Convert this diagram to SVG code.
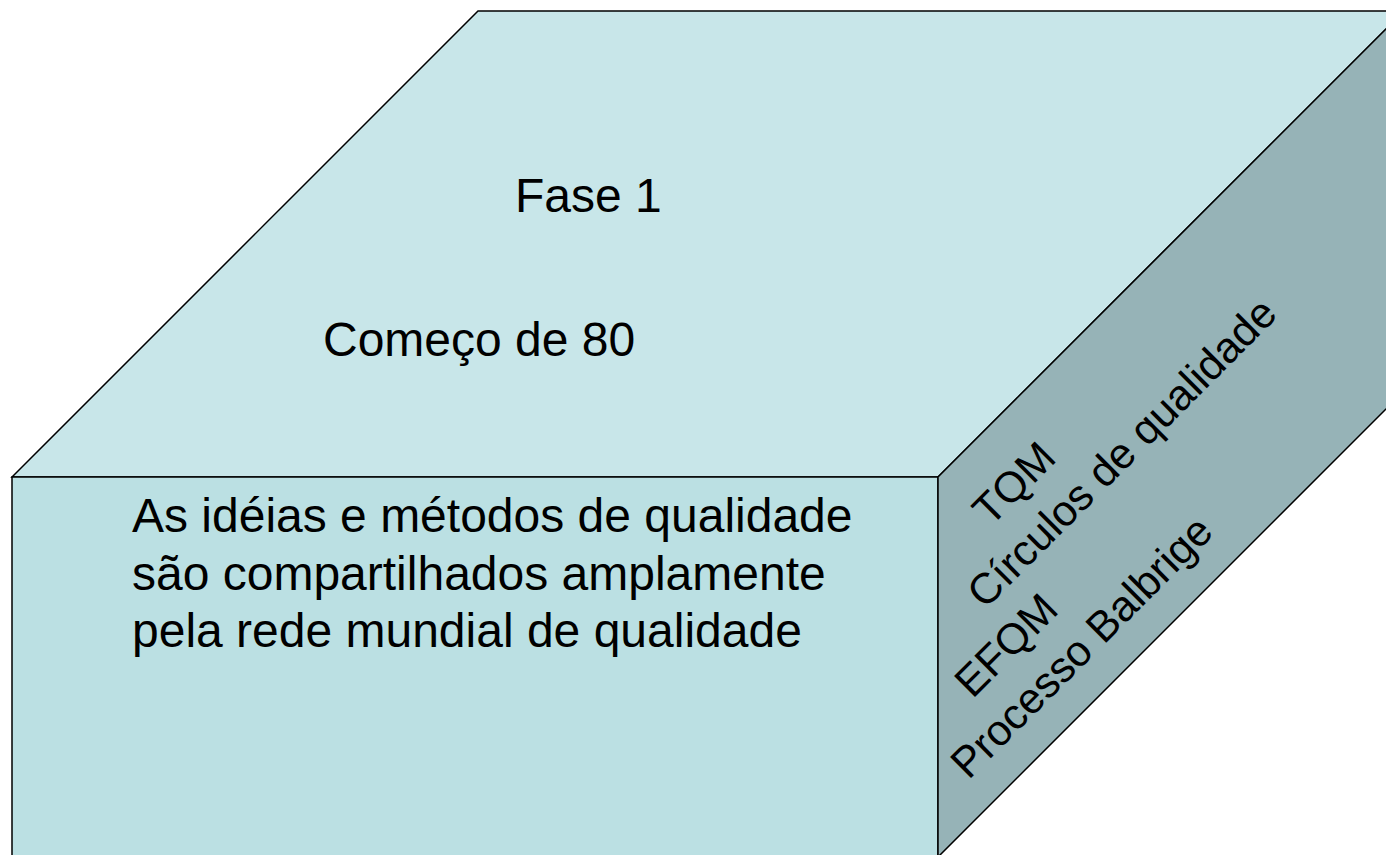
<svg xmlns="http://www.w3.org/2000/svg" width="1386" height="855" viewBox="0 0 1386 855">
  <style>
    .face { stroke: #000; stroke-width: 1.5; stroke-linejoin: miter; }
    .t { font-family: "Liberation Sans", Arial, sans-serif; font-size: 48px; fill: #000; }
    .s { font-family: "Liberation Sans", Arial, sans-serif; font-size: 43px; fill: #000; }
  </style>
  <rect width="1386" height="855" fill="#ffffff"/>
  <g id="top-face">
    <polygon class="face" fill="#C8E6E9" points="12,477 478,11 1404,11 938,477"/>
    <text class="t" x="515" y="212">Fase 1</text>
    <text class="t" x="323" y="356">Começo de 80</text>
  </g>
  <g id="front-face">
    <polygon class="face" fill="#BBE0E3" points="12,477 938,477 938,857 12,857"/>
    <text class="t" x="132" y="532">As idéias e métodos de qualidade</text>
    <text class="t" x="132" y="590">são compartilhados amplamente</text>
    <text class="t" x="132" y="647">pela rede mundial de qualidade</text>
  </g>
  <g id="side-face">
    <polygon class="face" fill="#96B3B7" points="938,477 1404,11 1404,391 938,857"/>
    <text class="s" transform="translate(990.5,527.5) rotate(-45)">TQM</text>
    <text class="s" transform="translate(985,610) rotate(-45)">Círculos de qualidade</text>
    <text class="s" transform="translate(972.5,699.5) rotate(-45)">EFQM</text>
    <text class="s" transform="translate(968.5,780.5) rotate(-45)">Processo Balbrige</text>
  </g>
  <g id="connectors"></g>
</svg>
